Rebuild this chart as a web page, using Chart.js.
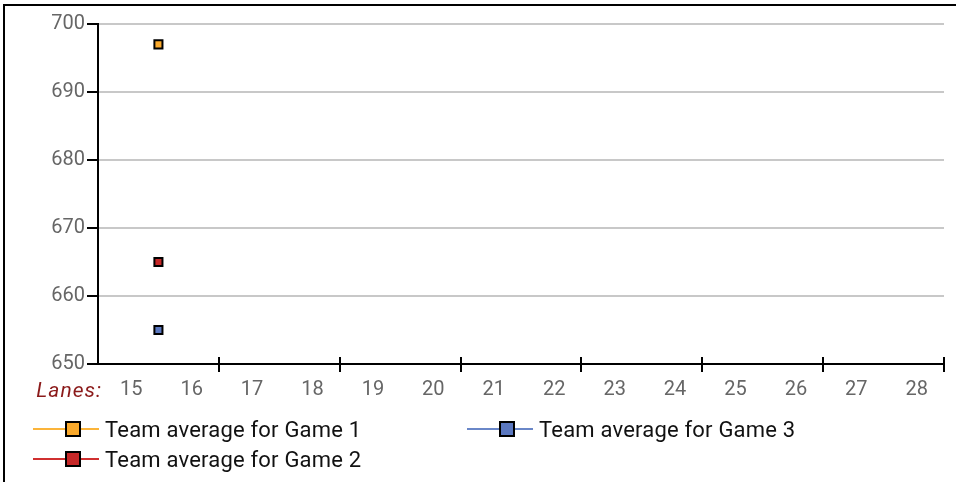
<!DOCTYPE html>
<html>
<head>
<meta charset="utf-8">
<script src="https://cdn.jsdelivr.net/npm/chart.js@4.4.1/dist/chart.umd.min.js"></script>
<style>
  html, body { margin:0; padding:0; width:956px; height:482px; overflow:hidden; background:#fff; font-family: Roboto, "Noto Sans", sans-serif; }
  #frame { position:absolute; left:3px; top:4px; width:1100px; height:700px; border:2px solid #000; box-sizing:border-box; }
  #wrap { position:absolute; left:0; top:0; width:956px; height:404px; }
  #legend { position:absolute; left:0; top:0; width:956px; height:482px; pointer-events:none; }
  .item { position:absolute; height:24px; display:flex; align-items:center; font-size:22px; letter-spacing:0.2px; color:#111; white-space:nowrap; }
  .mk { position:relative; width:66px; height:24px; margin-right:6px; flex:none; }
  .mk .ln { position:absolute; left:0; top:11px; width:66px; height:2px; }
  .mk .sq { position:absolute; left:32px; top:4px; width:12px; height:12px; border:2px solid #000; }
</style>
</head>
<body>
<div id="frame"></div>
<div id="wrap"><canvas id="c" width="956" height="404"></canvas></div>
<div id="legend"></div>
<script>
// ---- data ----
const lanes = [15,16,17,18,19,20,21,22,23,24,25,26,27,28];
const lanePairs = [[15,16],[17,18],[19,20],[21,22],[23,24],[25,26],[27,28]];
const yTicks = [650,660,670,680,690,700];
const seriesNames = ["Team average for Game 1","Team average for Game 2","Team average for Game 3"];
const game1 = [697];
const game2 = [665];
const game3 = [655];
const colors = ["#fbaa2c","#c62828","#5b78c0"];
const lineColors = ["#fbb43a","#d03030","#6a87c8"];

const seriesVals = [game1, game2, game3];
const datasets = seriesVals.map((vals, i) => ({
  label: seriesNames[i],
  data: vals.map((v, k) => ({ x: (lanePairs[k][0] + lanePairs[k][1]) / 2, y: v })),
  showLine: false,
  pointStyle: 'rect',
  pointRadius: 5.7,
  pointHoverRadius: 5.7,
  pointBackgroundColor: colors[i],
  pointBorderColor: '#000',
  pointBorderWidth: 2,
  borderColor: lineColors[i],
  backgroundColor: colors[i]
}));

const extras = {
  id: 'extras',
  afterDraw(chart) {
    const ctx = chart.ctx, xs = chart.scales.x, ca = chart.chartArea;
    ctx.save();
    ctx.strokeStyle = '#000';
    ctx.lineWidth = 2;
    lanePairs.forEach(p => {
      const px = Math.round(xs.getPixelForValue(p[1] + 0.5));
      ctx.beginPath();
      ctx.moveTo(px, ca.bottom - 7);
      ctx.lineTo(px, ca.bottom + 8);
      ctx.stroke();
    });
    ctx.fillStyle = '#8b1a1a';
    ctx.font = 'italic 21px Roboto';
    try { ctx.letterSpacing = '1px'; } catch (e) {}
    ctx.textAlign = 'right';
    ctx.textBaseline = 'middle';
    ctx.fillText('Lanes:', ca.left + 4, ca.bottom + 28);
    ctx.restore();
  }
};

new Chart(document.getElementById('c'), {
  type: 'scatter',
  data: { datasets },
  options: {
    responsive: false,
    animation: false,
    events: [],
    layout: { padding: { left: 0, right: 12, top: 24, bottom: 0 } },
    plugins: { legend: { display: false }, tooltip: { enabled: false } },
    scales: {
      x: {
        type: 'linear',
        min: lanes[0] - 0.5,
        max: lanes[lanes.length - 1] + 0.5,
        afterBuildTicks(s) { s.ticks = lanes.map(v => ({ value: v })); },
        afterFit(s) { s.height = 40; },
        grid: { display: false, drawTicks: false },
        border: { display: true, color: '#000', width: 2 },
        ticks: { color: '#666', font: { family: 'Roboto', size: 20 }, padding: 14, labelOffset: 3, maxRotation: 0, autoSkip: false, callback: v => String(v) }
      },
      y: {
        min: yTicks[0],
        max: yTicks[yTicks.length - 1],
        afterBuildTicks(s) { s.ticks = yTicks.map(v => ({ value: v })); },
        afterFit(s) { s.width = 98; },
        grid: { color: '#c8c8c8', lineWidth: 2, tickColor: '#000', tickLength: 11, tickWidth: 2 },
        border: { display: true, color: '#000', width: 2 },
        ticks: { color: '#666', font: { family: 'Roboto', size: 20 }, padding: 2 }
      }
    }
  },
  plugins: [extras]
});

// HTML legend (two columns: Game1, Game2 in column 1; Game3 in column 2)
const legendPos = [[33, 417], [33, 447], [467, 417]];
const lg = document.getElementById('legend');
seriesNames.forEach((name, i) => {
  const d = document.createElement('div');
  d.className = 'item';
  d.style.left = legendPos[i][0] + 'px';
  d.style.top = legendPos[i][1] + 'px';
  d.innerHTML = '<div class="mk"><div class="ln" style="background:' + lineColors[i] + '"></div><div class="sq" style="background:' + colors[i] + '"></div></div><span></span>';
  d.querySelector('span').textContent = name;
  lg.appendChild(d);
});
</script>
</body>
</html>
